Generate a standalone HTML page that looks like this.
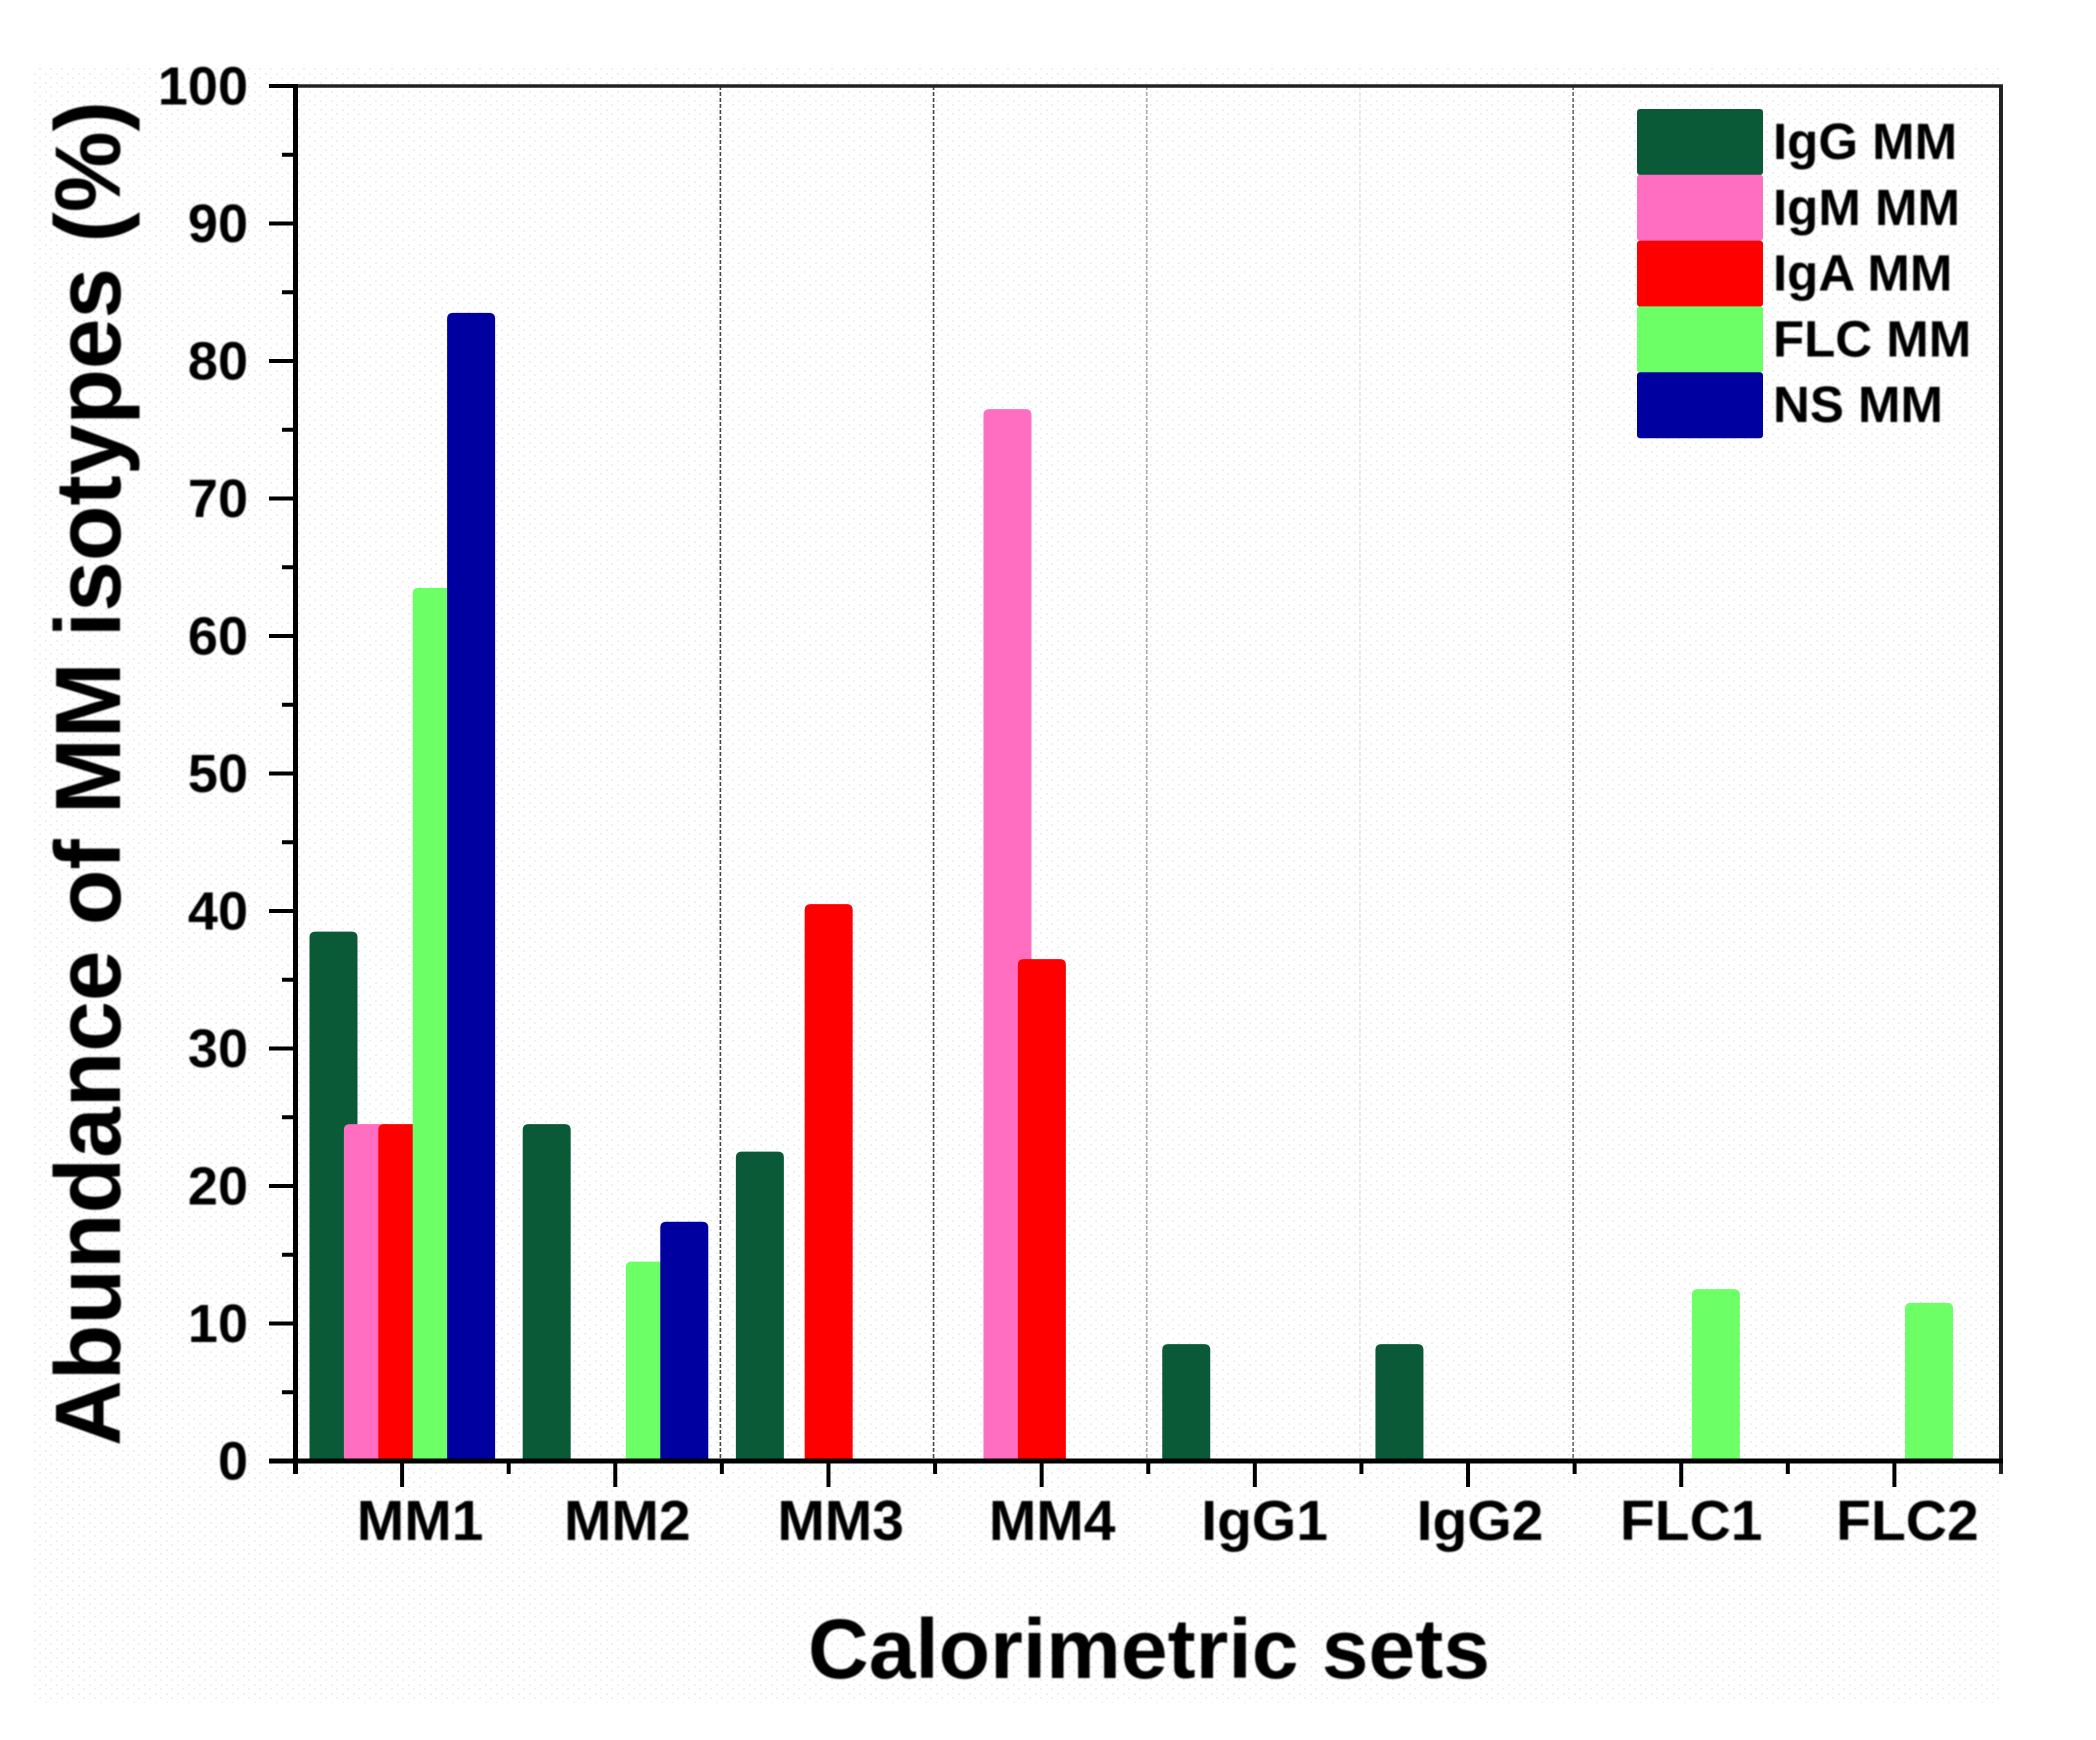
<!DOCTYPE html>
<html lang="en">
<head>
<meta charset="utf-8">
<title>Abundance of MM isotypes</title>
<style>
html,body{margin:0;padding:0;background:#fff;width:2096px;height:1740px;overflow:hidden}
svg{display:block}
text{font-family:"Liberation Sans",Arial,sans-serif;font-weight:bold;fill:#000}
</style>
</head>
<body>
<svg id="chart" xmlns="http://www.w3.org/2000/svg" width="2096" height="1740" viewBox="0 0 2096 1740">
  <defs>
    <pattern id="dots" width="11" height="9" patternUnits="userSpaceOnUse">
      <rect x="1" y="1" width="2" height="2" fill="#e9f2f7"/>
      <rect x="6" y="5" width="2" height="2" fill="#f3eef4"/>
    </pattern>
    <filter id="soft" x="-5%" y="-5%" width="110%" height="110%"><feGaussianBlur stdDeviation="0.7"/></filter>
  </defs>
  <rect width="2096" height="1740" fill="#ffffff"/>
  <rect x="33" y="66" width="1967" height="1637" fill="url(#dots)"/>
  <g id="separators"></g>
  <g id="bars"></g>
  <g id="axes"></g>
  <g id="labels" filter="url(#soft)"></g>
  <g id="legend"></g>
  <text filter="url(#soft)" font-size="93" textLength="1345" lengthAdjust="spacingAndGlyphs" transform="translate(120,1446) rotate(-90)">Abundance of MM isotypes (%)</text>
  <text filter="url(#soft)" x="808" y="1678" font-size="84" textLength="682" lengthAdjust="spacingAndGlyphs">Calorimetric sets</text>
</svg>
<script>
const categories = ['MM1','MM2','MM3','MM4','IgG1','IgG2','FLC1','FLC2'];
const seriesNames = ['IgG MM','IgM MM','IgA MM','FLC MM','NS MM'];
const igG = [38.5,24.5,22.5,0,8.5,8.5,0,0];
const igM = [24.5,0,0,76.5,0,0,0,0];
const igA = [24.5,0,40.5,36.5,0,0,0,0];
const flc = [63.5,14.5,0,0,0,0,12.5,11.5];
const ns = [83.5,17.4,0,0,0,0,0,0];
const yTicks = [0,10,20,30,40,50,60,70,80,90,100];
const yMinorTicks = [5,15,25,35,45,55,65,75,85,95];

const seriesValues = [igG,igM,igA,flc,ns];
const seriesColors = ['#0a5a38','#ff6ec0','#ff0000','#6dff66','#0000a0'];
const NS = 'http://www.w3.org/2000/svg';
const plot = {left:295.5,right:2001,top:86,bottom:1461};
const catWidth = (plot.right-plot.left)/categories.length;
const barStep = 34.4, barWidth = 48, barOffset = 14;
function yScale(v){return plot.bottom-(v/100)*(plot.bottom-plot.top);}
function xCat(i){return plot.left+i*catWidth;}
function mk(tag,attrs,parent){
  const el=document.createElementNS(NS,tag);
  for(const k in attrs)el.setAttribute(k,attrs[k]);
  parent.appendChild(el);
  return el;
}
const barsG=document.getElementById('bars');
const axesG=document.getElementById('axes');
const labelsG=document.getElementById('labels');
const legendG=document.getElementById('legend');
const sepG=document.getElementById('separators');

/* separators between groups */
[2,3,4,5,6].forEach(function(i){
  const x=xCat(i)-1.5;
  const stroke={2:'#444',3:'#444',4:'#aaa',5:'#e2e5e8',6:'#666'}[i];
  const line=mk('line',{x1:x,x2:x,y1:plot.top,y2:plot.bottom,stroke:stroke,'stroke-width':1.6,'stroke-dasharray':'4 2'},sepG);
  
  
});

/* bars */
seriesValues.forEach(function(vals,s){
  vals.forEach(function(v,i){
    if(!v)return;
    const x=xCat(i)+barOffset+s*barStep, y=yScale(v), b=plot.bottom, r=6;
    const p=mk('path',{d:'M'+x+' '+b+'V'+(y+r)+'Q'+x+' '+y+' '+(x+r)+' '+y+'H'+(x+barWidth-r)+'Q'+(x+barWidth)+' '+y+' '+(x+barWidth)+' '+(y+r)+'V'+b+'Z',fill:seriesColors[s]},barsG);
    
    
  });
});

/* y axis ticks and labels */
yTicks.forEach(function(t){
  const y=yScale(t);
  const tick=mk('line',{x1:269,x2:plot.left,y1:y,y2:y,stroke:'#000','stroke-width':4},axesG);
  
  
  const lab=mk('text',{x:248,y:y+18.5,'font-size':54,'text-anchor':'end'},labelsG);
  lab.textContent=t;
  
  
});
yMinorTicks.forEach(function(t){
  const y=yScale(t);
  const tick=mk('line',{x1:282,x2:plot.left,y1:y,y2:y,stroke:'#000','stroke-width':4},axesG);
  
  
});

/* x axis ticks and labels */
const labelNudge=[18,12,12.2,10.5,9.8,12,10,13];
categories.forEach(function(c,i){
  const mid=xCat(i)+catWidth/2;
  const tick=mk('line',{x1:mid,x2:mid,y1:plot.bottom,y2:1487,stroke:'#000','stroke-width':4},axesG);
  
  
  const lab=mk('text',{x:mid+labelNudge[i],y:1540,'font-size':57,'text-anchor':'middle'},labelsG);
  lab.textContent=c;
  
  
});
for(let i=0;i<=categories.length;i++){
  const x=xCat(i);
  const tick=mk('line',{x1:x,x2:x,y1:plot.bottom,y2:1474,stroke:'#000','stroke-width':4},axesG);
  
  
}

/* axis frame */
const frameTop=mk('line',{x1:plot.left,x2:plot.right+2,y1:plot.top,y2:plot.top,stroke:'#222','stroke-width':3.5},axesG);


const frameRight=mk('line',{x1:plot.right,x2:plot.right,y1:plot.top,y2:1474,stroke:'#222','stroke-width':4},axesG);


const frameLeft=mk('line',{x1:plot.left,x2:plot.left,y1:plot.top-2,y2:1474,stroke:'#000','stroke-width':5},axesG);


const frameBottom=mk('line',{x1:269,x2:plot.right+2,y1:plot.bottom,y2:plot.bottom,stroke:'#000','stroke-width':5},axesG);



/* legend */
seriesNames.forEach(function(n,s){
  const y=109+s*65.8;
  const sw=mk('rect',{x:1637,y:y,width:126,height:66,rx:3,fill:seriesColors[s]},legendG);
  
  
  const t=mk('text',{x:1773,y:y+50,'font-size':51,filter:'url(#soft)'},legendG);
  t.textContent=n;
  
  
});
</script>
</body>
</html>
